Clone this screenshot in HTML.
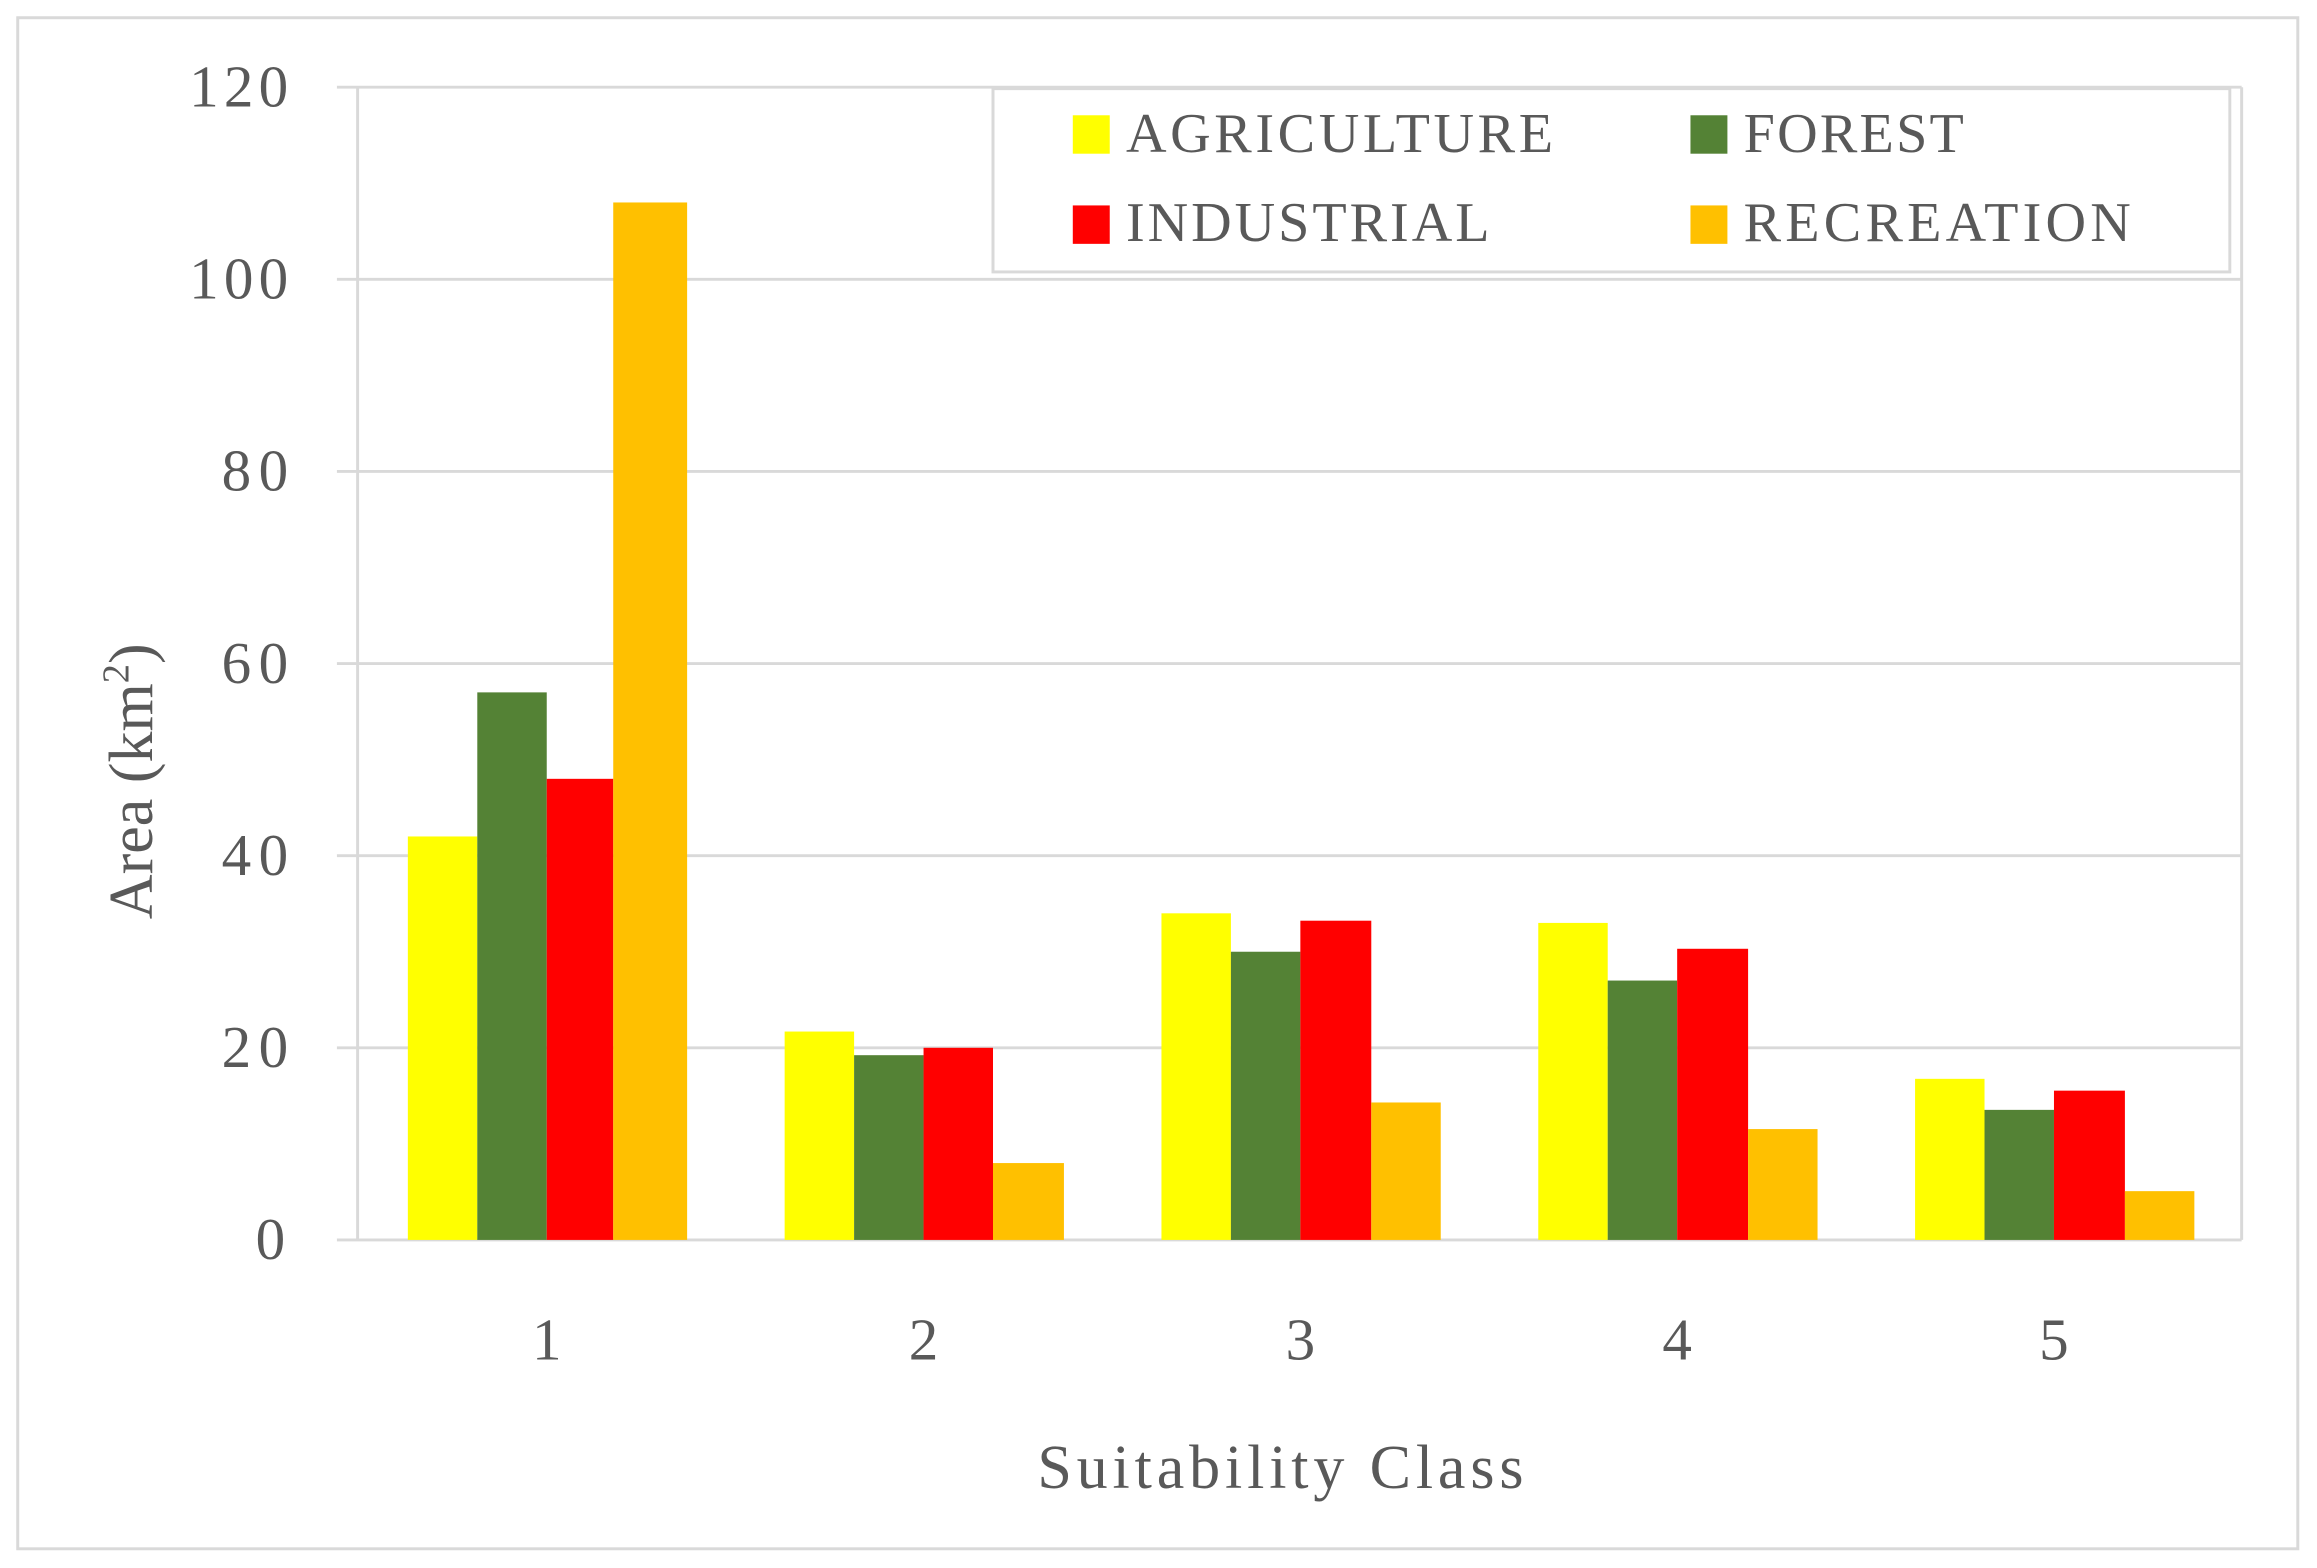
<!DOCTYPE html>
<html><head><style>html,body{margin:0;padding:0;background:#fff}svg{display:block}</style></head>
<body>
<svg width="2317" height="1568" viewBox="0 0 1568 1061" preserveAspectRatio="none" xmlns="http://www.w3.org/2000/svg" font-family="Liberation Serif, serif" fill="#595959">
<rect x="0" y="0" width="1568" height="1061" fill="#fff"/>
<rect x="12" y="12" width="1543" height="1036" fill="none" stroke="#d9d9d9" stroke-width="2"/>
<g stroke="#d9d9d9" stroke-width="2">
<line x1="228" y1="59" x2="1517" y2="59"/>
<line x1="228" y1="189" x2="1517" y2="189"/>
<line x1="228" y1="319" x2="1517" y2="319"/>
<line x1="228" y1="449" x2="1517" y2="449"/>
<line x1="228" y1="579" x2="1517" y2="579"/>
<line x1="228" y1="709" x2="1517" y2="709"/>
<line x1="228" y1="839" x2="1517" y2="839"/>
<line x1="242" y1="59" x2="242" y2="839"/>
<line x1="1517" y1="59" x2="1517" y2="839"/>
</g>
<g font-size="40">
<text x="128" y="72" textLength="67">120</text><text x="128" y="202" textLength="67">100</text>
<text x="150" y="332" textLength="45">80</text><text x="150" y="462" textLength="45">60</text>
<text x="150" y="592" textLength="45">40</text><text x="150" y="722" textLength="45">20</text>
<text x="173" y="852" textLength="22">0</text>
</g>
<g>
<rect x="276" y="566" width="47" height="273" fill="#ffff00"/>
<rect x="323" y="468.5" width="47" height="370.5" fill="#548235"/>
<rect x="370" y="527" width="45" height="312" fill="#ff0000"/>
<rect x="415" y="137" width="50" height="702" fill="#ffc000"/>
<rect x="531" y="698" width="47" height="141" fill="#ffff00"/>
<rect x="578" y="714" width="47" height="125" fill="#548235"/>
<rect x="625" y="709" width="47" height="130" fill="#ff0000"/>
<rect x="672" y="787" width="48" height="52" fill="#ffc000"/>
<rect x="786" y="618" width="47" height="221" fill="#ffff00"/>
<rect x="833" y="644" width="47" height="195" fill="#548235"/>
<rect x="880" y="623" width="48" height="216" fill="#ff0000"/>
<rect x="928" y="746" width="47" height="93" fill="#ffc000"/>
<rect x="1041" y="624.5" width="47" height="214.5" fill="#ffff00"/>
<rect x="1088" y="663.5" width="47" height="175.5" fill="#548235"/>
<rect x="1135" y="642" width="48" height="197" fill="#ff0000"/>
<rect x="1183" y="764" width="47" height="75" fill="#ffc000"/>
<rect x="1296" y="730" width="47" height="109" fill="#ffff00"/>
<rect x="1343" y="751" width="47" height="88" fill="#548235"/>
<rect x="1390" y="738" width="48" height="101" fill="#ff0000"/>
<rect x="1438" y="806" width="47" height="33" fill="#ffc000"/>
</g>
<g font-size="40" text-anchor="middle">
<text x="370" y="920">1</text><text x="625" y="920">2</text><text x="880" y="920">3</text><text x="1135" y="920">4</text><text x="1390" y="920">5</text>
</g>
<text x="702" y="1007" font-size="42" textLength="329">Suitability Class</text>
<text transform="translate(103,622) rotate(-90)" font-size="42">Area (km<tspan font-size="26" dy="-16">2</tspan><tspan dy="16">)</tspan></text>
<rect x="672" y="60" width="837" height="124" fill="#fff" stroke="#d9d9d9" stroke-width="2"/>
<g font-size="38">
<rect x="726" y="78" width="25" height="26" fill="#ffff00"/><text x="762" y="103" textLength="289">AGRICULTURE</text>
<rect x="1144" y="78" width="25" height="26" fill="#548235"/><text x="1180" y="103" textLength="149">FOREST</text>
<rect x="726" y="139" width="25" height="26" fill="#ff0000"/><text x="762" y="163" textLength="246">INDUSTRIAL</text>
<rect x="1144" y="139" width="25" height="26" fill="#ffc000"/><text x="1180" y="163" textLength="262">RECREATION</text>
</g>
</svg>
</body></html>
